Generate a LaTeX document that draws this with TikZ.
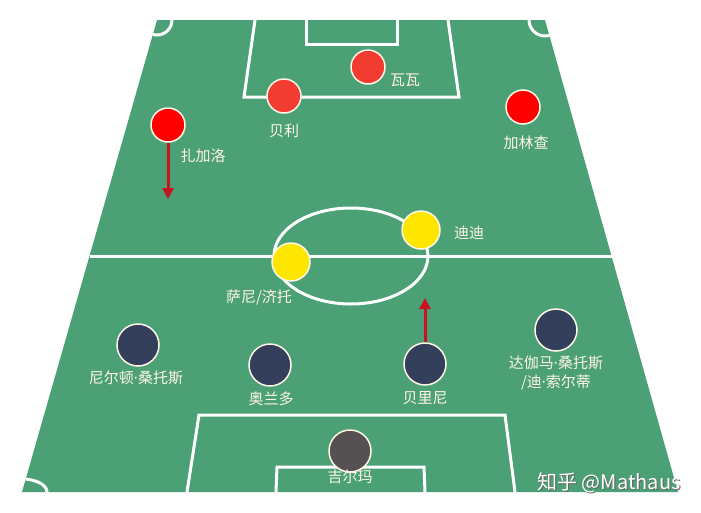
\documentclass[tikz,border=0pt]{standalone}
\usepackage{fontspec}
\newfontfamily\cjk{Noto Sans CJK SC}
\newfontfamily\latin{Noto Sans}
\usetikzlibrary{arrows.meta}
\definecolor{pitch}{HTML}{4BA075}
\definecolor{wingred}{HTML}{FF0000}
\definecolor{fwdred}{HTML}{F23C32}
\definecolor{midyellow}{HTML}{FFE600}
\definecolor{defnavy}{HTML}{343F5C}
\definecolor{gkgrey}{HTML}{555052}
\definecolor{runred}{HTML}{C8141E}
\definecolor{cream}{HTML}{FFF6E6}
\newcommand{\middot}{{\latin ·}}
\tikzset{
  player/.style={circle,draw=cream,line width=1.5pt,inner sep=0pt},
  wing/.style={player,fill=wingred,minimum size=34pt},
  fwd/.style={player,fill=fwdred,minimum size=34pt},
  mid/.style={player,fill=midyellow,minimum size=38pt},
  back/.style={player,fill=defnavy,minimum size=42pt},
  keeper/.style={player,fill=gkgrey,minimum size=42pt},
  plabel/.style={text=cream,font=\cjk\fontsize{15}{19}\selectfont,inner sep=0pt,align=center},
  chalk/.style={draw=white,line width=3pt},
  run/.style={draw=runred,line width=3pt,-{Triangle[width=11pt,length=11pt]}},
  wmark/.style={font=\cjk\fontsize{20}{22}\selectfont,inner sep=0pt}
}
\begin{document}
\begin{tikzpicture}[x=1pt,y=-1pt]
\useasboundingbox (0,0) rectangle (701,512);
% pitch
\fill[pitch] (157,20) -- (545,20) -- (678,492) -- (22,492) -- cycle;
\begin{scope}
  \clip (157,20) -- (545,20) -- (678,492) -- (22,492) -- cycle;
  \draw[chalk] (157,20) circle (15);
  \draw[chalk] (545,20) circle (16);
  \draw[chalk] (22,492) ellipse (25 and 13);
\end{scope}
\draw[chalk] (90,256) -- (612,256);
\draw[chalk] (351,256) ellipse (77 and 48);
\draw[chalk] (255,20) -- (244,97) -- (459,97) -- (448,20);
\draw[chalk] (306,20) -- (306,44) -- (397,44) -- (397,20);
\draw[chalk] (187,492) -- (199,415) -- (505,415) -- (515,492);
\draw[chalk] (276,492) -- (277,467) -- (424,467) -- (425,492);

% players
\node[wing] (zagallo) at (168,125) {};
\node[fwd] (pele) at (284,96) {};
\node[fwd] (vava) at (368,67) {};
\node[wing] (garrincha) at (523,107) {};
\node[mid] (didi) at (421,230) {};
\node[mid] (zito) at (291,262) {};
\node[back] (nilton) at (138,345) {};
\node[back] (orlando) at (270,365) {};
\node[back] (bellini) at (425,364) {};
\node[back] (djalma) at (556,330) {};
\node[keeper] (gilmar) at (350,451) {};

% names
\node[plabel] (zagallo-l) at (203,156) {扎加洛};
\node[plabel] (pele-l) at (284,131) {贝利};
\node[plabel] (vava-l) at (405,80) {瓦瓦};
\node[plabel] (garrincha-l) at (526,143) {加林查};
\node[plabel] (didi-l) at (469,233) {迪迪};
\node[plabel] (zito-l) at (259,298) {萨尼/济托};
\node[plabel] (nilton-l) at (136,378) {尼尔顿\middot 桑托斯};
\node[plabel] (orlando-l) at (271,399) {奥兰多};
\node[plabel] (bellini-l) at (425,398) {贝里尼};
\node[plabel] (djalma-l) at (556,373) {达伽马\middot 桑托斯\\/迪\middot 索尔蒂};
\node[plabel] (gilmar-l) at (350,477) {吉尔玛};

% runs
\coordinate (zagallo-to) at (168,199);
\coordinate (bellini-to) at (425,298);
\foreach \a in {zagallo,bellini}
  \draw[run] (\a) -- (\a-to);

% watermark
\node[wmark,text=black!60] (wm-shadow) at (610,484) {知乎 @Mathaus};
\node[wmark,text=white] (wm) at (609,483) {知乎 @Mathaus};
\end{tikzpicture}
\end{document}
